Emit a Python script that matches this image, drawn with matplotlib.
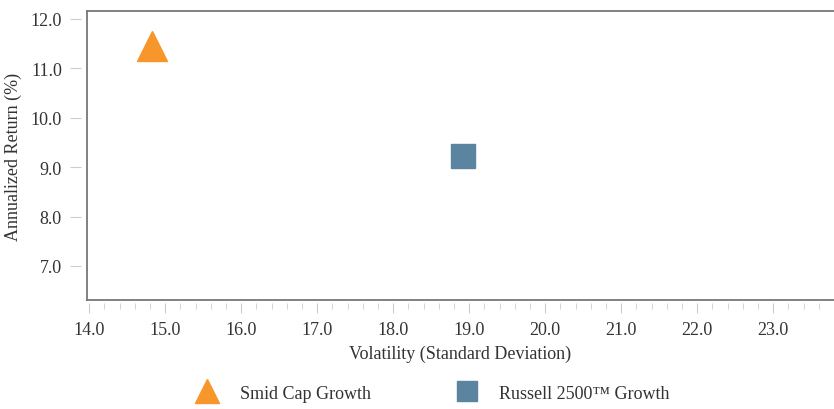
import matplotlib.pyplot as plt
from matplotlib.lines import Line2D
from matplotlib.ticker import MultipleLocator, FormatStrFormatter

# Data
names = ['Smid Cap Growth', 'Russell 2500\u2122 Growth']
volatility = [14.83, 18.92]
returns = [11.45, 9.23]
markers = ['^', 's']
colors = ['#F7962B', '#5B84A0']
sizes = [21, 17]

plt.rcParams['font.family'] = ['Liberation Serif', 'DejaVu Serif']

fig = plt.figure(figsize=(8.34, 4.10), dpi=100)
ax = fig.add_axes([0.1043, 0.2659, 0.8957, 0.7048])

for n, x, y, m, c, s in zip(names, volatility, returns, markers, colors, sizes):
    ax.plot(x, y, linestyle='none', marker=m, color=c, markersize=s, label=n)

ax.set_xlim(13.97, 23.8)
ax.set_ylim(6.31, 12.16)

ax.xaxis.set_major_locator(MultipleLocator(1.0))
ax.xaxis.set_minor_locator(MultipleLocator(0.2))
ax.yaxis.set_major_locator(MultipleLocator(1.0))
ax.xaxis.set_major_formatter(FormatStrFormatter('%.1f'))
ax.yaxis.set_major_formatter(FormatStrFormatter('%.1f'))

# ticks sit slightly away from the frame, so offset spines and redraw the frame
ax.spines['left'].set_position(('outward', 4))
ax.spines['bottom'].set_position(('outward', 2))
ax.spines['left'].set_visible(False)
ax.spines['bottom'].set_visible(False)
ax.spines['right'].set_visible(False)
ax.spines['top'].set_color('#777777')
ax.spines['top'].set_linewidth(1.3)
for xs, ys in [([0, 0], [0, 1]), ([0, 1], [0, 0])]:
    ax.add_line(Line2D(xs, ys, transform=ax.transAxes, color='#777777',
                       linewidth=1.3, clip_on=False))

ax.tick_params(axis='both', which='major', direction='out', length=7,
               color='#cccccc', labelsize=13, labelcolor='#333333', pad=6)
ax.tick_params(axis='x', which='minor', direction='out', length=4, color='#cccccc')
ax.tick_params(axis='y', which='major', length=8)

ax.set_xlabel('Volatility (Standard Deviation)', fontsize=13, color='#333333', labelpad=5)
ax.set_ylabel('Annualized Return (%)', fontsize=13, color='#333333', labelpad=6)

fig.legend(loc='lower center', bbox_to_anchor=(0.515, -0.022), ncol=2, frameon=False,
           fontsize=13, markerscale=0.85, columnspacing=4.3, handletextpad=0.8,
           labelcolor='#333333')

fig.savefig('out.png', dpi=100)
